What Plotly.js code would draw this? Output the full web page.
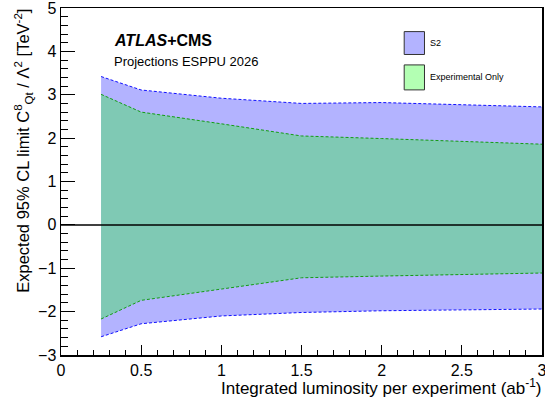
<!DOCTYPE html>
<html>
<head>
<meta charset="utf-8">
<script src="https://cdn.plot.ly/plotly-3.0.1.min.js"></script>
<style>html,body{margin:0;padding:0;background:#fff;}#chart{width:545px;height:401px;}</style>
</head>
<body>
<div id="chart"></div>
<script>
// Data
var lumi = [0.25, 0.5, 1, 1.5, 2, 3];
var s2Upper = [3.42, 3.11, 2.92, 2.80, 2.82, 2.72];
var s2Lower = [-2.58, -2.28, -2.10, -2.02, -1.98, -1.94];
var expUpper = [3.01, 2.60, 2.33, 2.05, 1.99, 1.86];
var expLower = [-2.17, -1.74, -1.48, -1.22, -1.18, -1.11];
var xTicks = [0, 0.5, 1, 1.5, 2, 2.5, 3];
var xTickText = ['0', '0.5', '1', '1.5', '2', '2.5', '3'];
var yTicks = [-3, -2, -1, 0, 1, 2, 3, 4, 5];

function band(lo, hi, color) {
  return {
    x: lumi.concat(lumi.slice().reverse()),
    y: hi.concat(lo.slice().reverse()),
    type: 'scatter', mode: 'lines', fill: 'toself',
    fillcolor: color, line: {width: 0}, hoverinfo: 'skip', showlegend: false
  };
}
function edge(y, color) {
  return {x: lumi, y: y, type: 'scatter', mode: 'lines',
    line: {color: color, width: 1, dash: '3px,2px'}, showlegend: false, hoverinfo: 'skip'};
}

var traces = [
  band(s2Lower, s2Upper, '#b3b3ff'),
  band(expLower, expUpper, '#7fc9b4'),
  edge(s2Upper, '#1010ff'),
  edge(s2Lower, '#1010ff'),
  edge(expUpper, '#139c13'),
  edge(expLower, '#139c13')
];

var font = 'Liberation Sans, Arial, Helvetica, sans-serif';
var layout = {
  width: 545, height: 401,
  margin: {l: 61, r: 3, t: 8, b: 46},
  paper_bgcolor: '#fff', plot_bgcolor: '#fff',
  font: {family: font, color: '#000', size: 16},
  showlegend: false,
  xaxis: {
    range: [0, 3], tickvals: xTicks, ticktext: xTickText,
    ticks: 'inside', ticklen: 10, tickwidth: 1, tickcolor: '#000',
    minor: {ticks: 'inside', dtick: 0.1, ticklen: 5, tickcolor: '#000', tickwidth: 1},
    showline: true, linecolor: '#000', linewidth: 1.5, mirror: true,
    showgrid: false, zeroline: false, tickfont: {size: 16},
    ticklabeloverflow: 'allow', ticklabelstandoff: 0
  },
  yaxis: {
    range: [-3, 5], tickvals: yTicks,
    ticks: 'inside', ticklen: 14, tickwidth: 1, tickcolor: '#000',
    minor: {ticks: 'inside', dtick: 0.2, ticklen: 7, tickcolor: '#000', tickwidth: 1},
    showline: true, linecolor: '#000', linewidth: 1.5, mirror: true,
    showgrid: false, zeroline: false, tickfont: {size: 16},
    ticklabeloverflow: 'allow'
  },
  shapes: [
    {type: 'line', xref: 'paper', yref: 'y', x0: 0, x1: 1, y0: 0, y1: 0, line: {color: '#000', width: 1.5}},
    {type: 'rect', xref: 'paper', yref: 'paper', x0: 0.7135, x1: 0.7557, y0: 0.866, y1: 0.932,
      fillcolor: '#b3b3ff', line: {color: '#333', width: 1}},
    {type: 'rect', xref: 'paper', yref: 'paper', x0: 0.7135, x1: 0.7557, y0: 0.764, y1: 0.836,
      fillcolor: '#b3ffb3', line: {color: '#333', width: 1}}
  ],
  annotations: [
    {xref: 'paper', yref: 'paper', x: 0.1058, y: 0.905, xanchor: 'left', yanchor: 'middle', showarrow: false,
      text: '<b><i>ATLAS</i>+CMS</b>', font: {size: 16}},
    {xref: 'paper', yref: 'paper', x: 0.1058, y: 0.845, xanchor: 'left', yanchor: 'middle', showarrow: false,
      text: 'Projections ESPPU 2026', font: {size: 13}},
    {xref: 'paper', yref: 'paper', x: 0.762, y: 0.899, xanchor: 'left', yanchor: 'middle', showarrow: false,
      text: 'S2', font: {size: 9}},
    {xref: 'paper', yref: 'paper', x: 0.762, y: 0.800, xanchor: 'left', yanchor: 'middle', showarrow: false,
      text: 'Experimental Only', font: {size: 9}},
    {xref: 'paper', yref: 'paper', x: 1.004, y: -0.055, xanchor: 'right', yanchor: 'top', showarrow: false,
      text: 'Integrated luminosity per experiment (ab<sup>-1</sup>)', font: {size: 17}},
    {xref: 'paper', yref: 'paper', x: -0.078, y: 1.005, xanchor: 'center', yanchor: 'top', showarrow: false,
      textangle: -90,
      text: 'Expected 95% CL limit C<sup>8</sup><sub>Qt</sub> / Λ<sup>2</sup> [TeV<sup>-2</sup>]', font: {size: 16.5}}
  ]
};
Plotly.newPlot('chart', traces, layout, {displayModeBar: false, staticPlot: true});
</script>
</body>
</html>
